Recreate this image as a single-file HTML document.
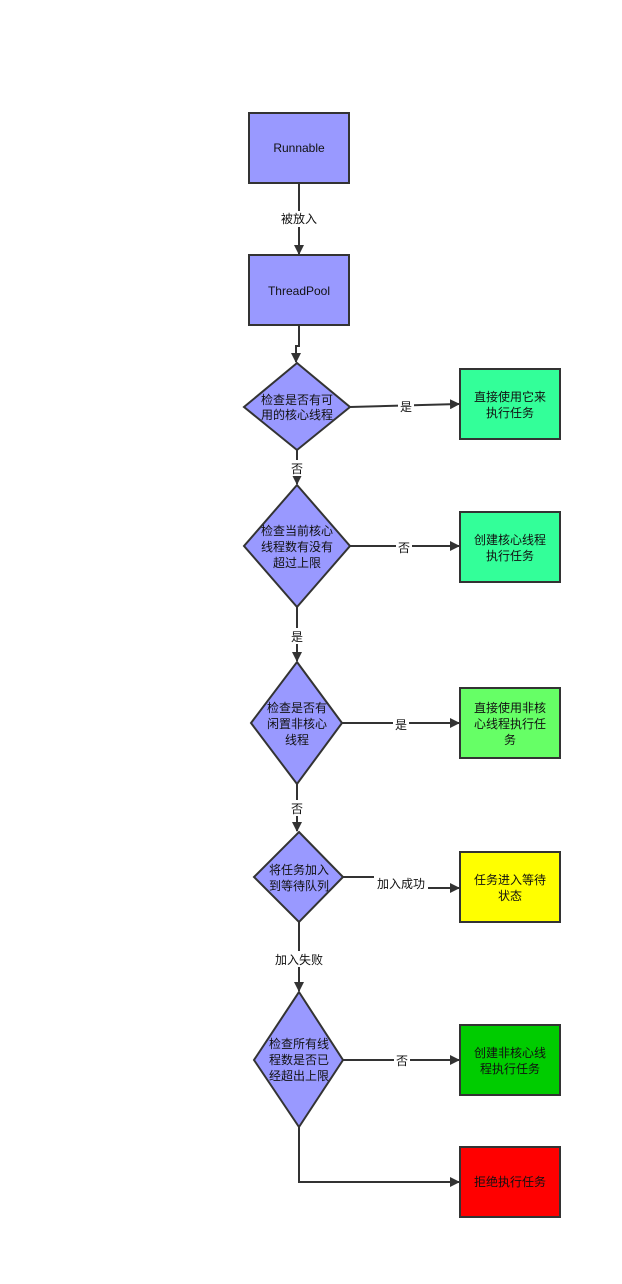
<!DOCTYPE html>
<html><head><meta charset="utf-8"><style>
body{margin:0;background:#fff;}
svg text{font-family:"Liberation Sans","Noto Sans CJK SC",sans-serif;font-size:12px;fill:#111;text-anchor:middle;}
</style></head><body>
<svg width="622" height="1279" viewBox="0 0 622 1279" xmlns="http://www.w3.org/2000/svg">
<defs><marker id="a" markerWidth="10" markerHeight="10" refX="9" refY="5" orient="auto" markerUnits="userSpaceOnUse"><path d="M0,0 L10,5 L0,10 Z" fill="#333"/></marker></defs>
<g stroke="#333" stroke-width="2" fill="none">
<line x1="299" y1="183" x2="299" y2="254" marker-end="url(#a)"/>
<polyline points="299,325 299,346 296,346 296,362" marker-end="url(#a)"/>
<line x1="350" y1="407" x2="459" y2="404" marker-end="url(#a)"/>
<line x1="297" y1="450" x2="297" y2="484" marker-end="url(#a)"/>
<line x1="350" y1="546" x2="459" y2="546" marker-end="url(#a)"/>
<line x1="297" y1="607" x2="297" y2="661" marker-end="url(#a)"/>
<line x1="342" y1="723" x2="459" y2="723" marker-end="url(#a)"/>
<line x1="297" y1="784" x2="297" y2="831" marker-end="url(#a)"/>
<polyline points="343,877 400,877 400,888 459,888" marker-end="url(#a)"/>
<line x1="299" y1="922" x2="299" y2="991" marker-end="url(#a)"/>
<line x1="343" y1="1060" x2="459" y2="1060" marker-end="url(#a)"/>
<polyline points="299,1127 299,1182 459,1182" marker-end="url(#a)"/>
</g>
<g stroke="#333" stroke-width="2">
<rect x="249" y="113" width="100" height="70" fill="#9999ff"/>
<rect x="249" y="255" width="100" height="70" fill="#9999ff"/>
<polygon points="297,363 350,407 297,450 244,407" fill="#9999ff"/>
<polygon points="297,485 350,546 297,607 244,546" fill="#9999ff"/>
<polygon points="297,662 342,723 297,784 251,723" fill="#9999ff"/>
<polygon points="299,832 343,877 299,922 254,877" fill="#9999ff"/>
<polygon points="299,992 343,1060 299,1127 254,1060" fill="#9999ff"/>
<rect x="460" y="369" width="100" height="70" fill="#33ff99"/>
<rect x="460" y="512" width="100" height="70" fill="#33ff99"/>
<rect x="460" y="688" width="100" height="70" fill="#66ff66"/>
<rect x="460" y="852" width="100" height="70" fill="#ffff00"/>
<rect x="460" y="1025" width="100" height="70" fill="#00cc00"/>
<rect x="460" y="1147" width="100" height="70" fill="#ff0000"/>
</g>
<g fill="#fff">
<rect x="277" y="211" width="44" height="16"/>
<rect x="398" y="398" width="16" height="16"/>
<rect x="289" y="460" width="16" height="16"/>
<rect x="396" y="539" width="16" height="16"/>
<rect x="289" y="628" width="16" height="16"/>
<rect x="393" y="716" width="16" height="16"/>
<rect x="289" y="800" width="16" height="16"/>
<rect x="374" y="876" width="54" height="16"/>
<rect x="271" y="951" width="56" height="16"/>
<rect x="394" y="1052" width="16" height="16"/>
</g>
<text x="299" y="152">Runnable</text>
<text x="299" y="295">ThreadPool</text>
<text x="299" y="223">被放入</text>
<text x="297" y="404">检查是否有可</text><text x="297" y="419">用的核心线程</text>
<text x="297" y="535">检查当前核心</text><text x="297" y="551">线程数有没有</text><text x="297" y="567">超过上限</text>
<text x="297" y="712">检查是否有</text><text x="297" y="728">闲置非核心</text><text x="297" y="744">线程</text>
<text x="299" y="874">将任务加入</text><text x="299" y="890">到等待队列</text>
<text x="299" y="1048">检查所有线</text><text x="299" y="1064">程数是否已</text><text x="299" y="1080">经超出上限</text>
<text x="510" y="401">直接使用它来</text><text x="510" y="417">执行任务</text>
<text x="510" y="544">创建核心线程</text><text x="510" y="560">执行任务</text>
<text x="510" y="712">直接使用非核</text><text x="510" y="728">心线程执行任</text><text x="510" y="744">务</text>
<text x="510" y="884">任务进入等待</text><text x="510" y="900">状态</text>
<text x="510" y="1057">创建非核心线</text><text x="510" y="1073">程执行任务</text>
<text x="510" y="1186">拒绝执行任务</text>
<text x="406" y="411">是</text>
<text x="297" y="473">否</text>
<text x="404" y="552">否</text>
<text x="297" y="641">是</text>
<text x="401" y="729">是</text>
<text x="297" y="813">否</text>
<text x="401" y="888">加入成功</text>
<text x="299" y="964">加入失败</text>
<text x="402" y="1065">否</text>
</svg>
</body></html>
